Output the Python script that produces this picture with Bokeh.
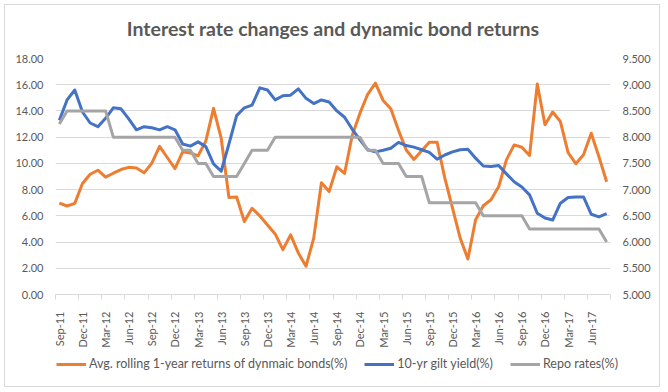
import math
import pandas as pd
from bokeh.plotting import figure
from bokeh.layouts import column
from bokeh.models import (Range1d, LinearAxis, FixedTicker, NumeralTickFormatter,
                          Legend, LegendItem, Label)
from bokeh.embed import file_html
from bokeh.resources import INLINE

# ---- data -------------------------------------------------------------
months = list(pd.date_range("2011-09-01", periods=72, freq="MS").strftime("%b-%y"))

bond_returns = [6.97, 6.75, 6.95, 8.47, 9.17, 9.48, 8.95, 9.25, 9.53, 9.70,
                9.65, 9.28, 10.02, 11.30, 10.45, 9.60, 10.88, 10.80, 10.58, 11.70,
                14.20, 11.90, 7.40, 7.44, 5.57, 6.58, 6.00, 5.30, 4.62, 3.42,
                4.55, 3.17, 2.15, 4.30, 8.52, 7.85, 9.74, 9.23, 12.15, 13.83,
                15.27, 16.12, 14.80, 14.17, 12.52, 11.02, 10.30, 10.97, 11.62, 11.62,
                8.90, 6.60, 4.30, 2.71, 5.70, 6.77, 7.23, 8.24, 10.27, 11.41,
                11.23, 10.60, 16.05, 12.94, 13.92, 13.19, 10.82, 9.98, 10.66, 12.30,
                10.50, 8.60]

gilt_yield = [8.32, 8.71, 8.90, 8.48, 8.27, 8.20, 8.36, 8.56, 8.54, 8.35,
              8.14, 8.20, 8.18, 8.14, 8.20, 8.14, 7.87, 7.83, 7.91, 7.82,
              7.49, 7.35, 7.87, 8.41, 8.56, 8.61, 8.94, 8.90, 8.71, 8.79,
              8.80, 8.92, 8.74, 8.64, 8.71, 8.67, 8.50, 8.38, 8.15, 7.95,
              7.76, 7.72, 7.75, 7.79, 7.90, 7.84, 7.81, 7.76, 7.71, 7.58,
              7.66, 7.72, 7.76, 7.77, 7.60, 7.45, 7.44, 7.46, 7.30, 7.15,
              7.05, 6.90, 6.55, 6.46, 6.42, 6.74, 6.85, 6.86, 6.86, 6.53,
              6.48, 6.54]

repo_rate = [8.25, 8.50, 8.50, 8.50, 8.50, 8.50, 8.50, 8.00, 8.00, 8.00,
             8.00, 8.00, 8.00, 8.00, 8.00, 8.00, 7.75, 7.75, 7.50, 7.50,
             7.25, 7.25, 7.25, 7.25, 7.50, 7.75, 7.75, 7.75, 8.00, 8.00,
             8.00, 8.00, 8.00, 8.00, 8.00, 8.00, 8.00, 8.00, 8.00, 8.00,
             7.75, 7.75, 7.50, 7.50, 7.50, 7.25, 7.25, 7.25, 6.75, 6.75,
             6.75, 6.75, 6.75, 6.75, 6.75, 6.50, 6.50, 6.50, 6.50, 6.50,
             6.50, 6.25, 6.25, 6.25, 6.25, 6.25, 6.25, 6.25, 6.25, 6.25,
             6.25, 6.00]

left_ticks = [0, 2, 4, 6, 8, 10, 12, 14, 16, 18]
right_ticks = [5.0, 5.5, 6.0, 6.5, 7.0, 7.5, 8.0, 8.5, 9.0, 9.5]

title_text = "Interest rate changes and dynamic bond returns"
series_names = ["Avg. rolling 1-year returns of dynmaic bonds(%)",
                "10-yr gilt yield(%)", "Repo rates(%)"]
series_colors = ["#ED7D31", "#4472C4", "#A5A5A5"]

# ---- figure -----------------------------------------------------------
x = list(range(len(months)))
tick_pos = x[::3]
label_map = {i: months[i] for i in tick_pos}
boundaries = [i - 0.5 for i in range(0, len(months) + 1, 3)]

FONT = "Lato"
TXT = "#595959"
GRID = "#D9D9D9"
W = 664


def strip(height):
    f = figure(width=W, height=height, output_backend="svg", toolbar_location=None,
               x_axis_type=None, y_axis_type=None, min_border=0,
               x_range=Range1d(0, 1), y_range=Range1d(-100, -99))
    f.outline_line_color = None
    f.background_fill_color = "white"
    f.border_fill_color = "white"
    return f


# title strip
tf = strip(40)
tf.add_layout(Label(x=332.5, y=12, x_units="screen", y_units="screen", text=title_text,
                    text_align="center", text_baseline="middle", text_font=FONT,
                    text_font_size="19.5px", text_font_style="bold", text_color=TXT))

p = figure(width=W, height=310, output_backend="svg", toolbar_location=None,
           x_range=Range1d(-0.5, len(months) - 0.5),
           y_range=Range1d(left_ticks[0], left_ticks[-1]),
           min_border_left=55, min_border_right=W - 610,
           min_border_top=18, min_border_bottom=55)
p.extra_y_ranges = {"r": Range1d(right_ticks[0], right_ticks[-1])}
p.outline_line_color = None
p.background_fill_color = "white"
p.border_fill_color = "white"

# left axis
ya = p.yaxis[0]
ya.ticker = FixedTicker(ticks=left_ticks)
ya.formatter = NumeralTickFormatter(format="0.00")
ya.axis_line_color = None
ya.major_tick_line_color = None
ya.major_tick_out = 0
ya.minor_tick_line_color = None
ya.major_label_standoff = 12
ya.major_label_text_font = FONT
ya.major_label_text_font_size = "11px"
ya.major_label_text_color = TXT

# right axis
ra = LinearAxis(y_range_name="r", ticker=FixedTicker(ticks=right_ticks),
                formatter=NumeralTickFormatter(format="0.000"))
ra.axis_line_color = None
ra.major_tick_line_color = None
ra.major_tick_out = 0
ra.minor_tick_line_color = None
ra.major_label_standoff = 12
ra.major_label_text_font = FONT
ra.major_label_text_font_size = "11px"
ra.major_label_text_color = TXT
p.add_layout(ra, "right")

# x axis
xa = p.xaxis[0]
xa.ticker = FixedTicker(ticks=tick_pos, minor_ticks=boundaries)
xa.major_label_overrides = label_map
xa.axis_line_color = GRID
xa.major_tick_line_color = None
xa.minor_tick_line_color = GRID
xa.minor_tick_in = 0
xa.minor_tick_out = 5
xa.major_label_orientation = math.pi / 2
xa.major_label_standoff = 11
xa.major_label_text_font = FONT
xa.major_label_text_font_size = "11px"
xa.major_label_text_color = TXT

p.xgrid.visible = False
p.ygrid.grid_line_color = GRID
p.ygrid.grid_line_width = 1

series = [bond_returns, gilt_yield, repo_rate]
ranges = ["default", "r", "r"]
for vals, c, rn in zip(series, series_colors, ranges):
    p.line(x, vals, line_color=c, line_width=3, line_join="round", y_range_name=rn)

# ---- legend strip below the chart --------------------------------------
lf = strip(41)
# legend samples: same series, drawn out of this strip's view
lr = [lf.line(x, vals, line_color=c, line_width=3) for vals, c in zip(series, series_colors)]

try:
    tf.frame_align = False
    lf.frame_align = False
    p.frame_align = False
    leg_loc, leg_spacing = (56, 20), 17
except Exception:
    leg_loc, leg_spacing = (1, 20), 12

legend = Legend(items=[LegendItem(label=n, renderers=[r]) for n, r in zip(series_names, lr)],
                orientation="horizontal", location=leg_loc,
                label_text_font=FONT, label_text_font_size="12.5px",
                label_text_color=TXT, glyph_width=30, glyph_height=12,
                spacing=leg_spacing, label_standoff=3, padding=0, margin=0,
                border_line_color=None, background_fill_alpha=0)
lf.add_layout(legend, "center")

chart_border_css = (":host::after { content: ''; position: absolute; left: 4px; top: 4px; "
                    "width: 656px; height: 383px; box-sizing: border-box; "
                    "border: 1px solid #D9D9D9; pointer-events: none; z-index: 50; }")
layout = column(tf, p, lf, spacing=0, stylesheets=[chart_border_css])
open("out.html", "w").write(file_html(layout, INLINE))
